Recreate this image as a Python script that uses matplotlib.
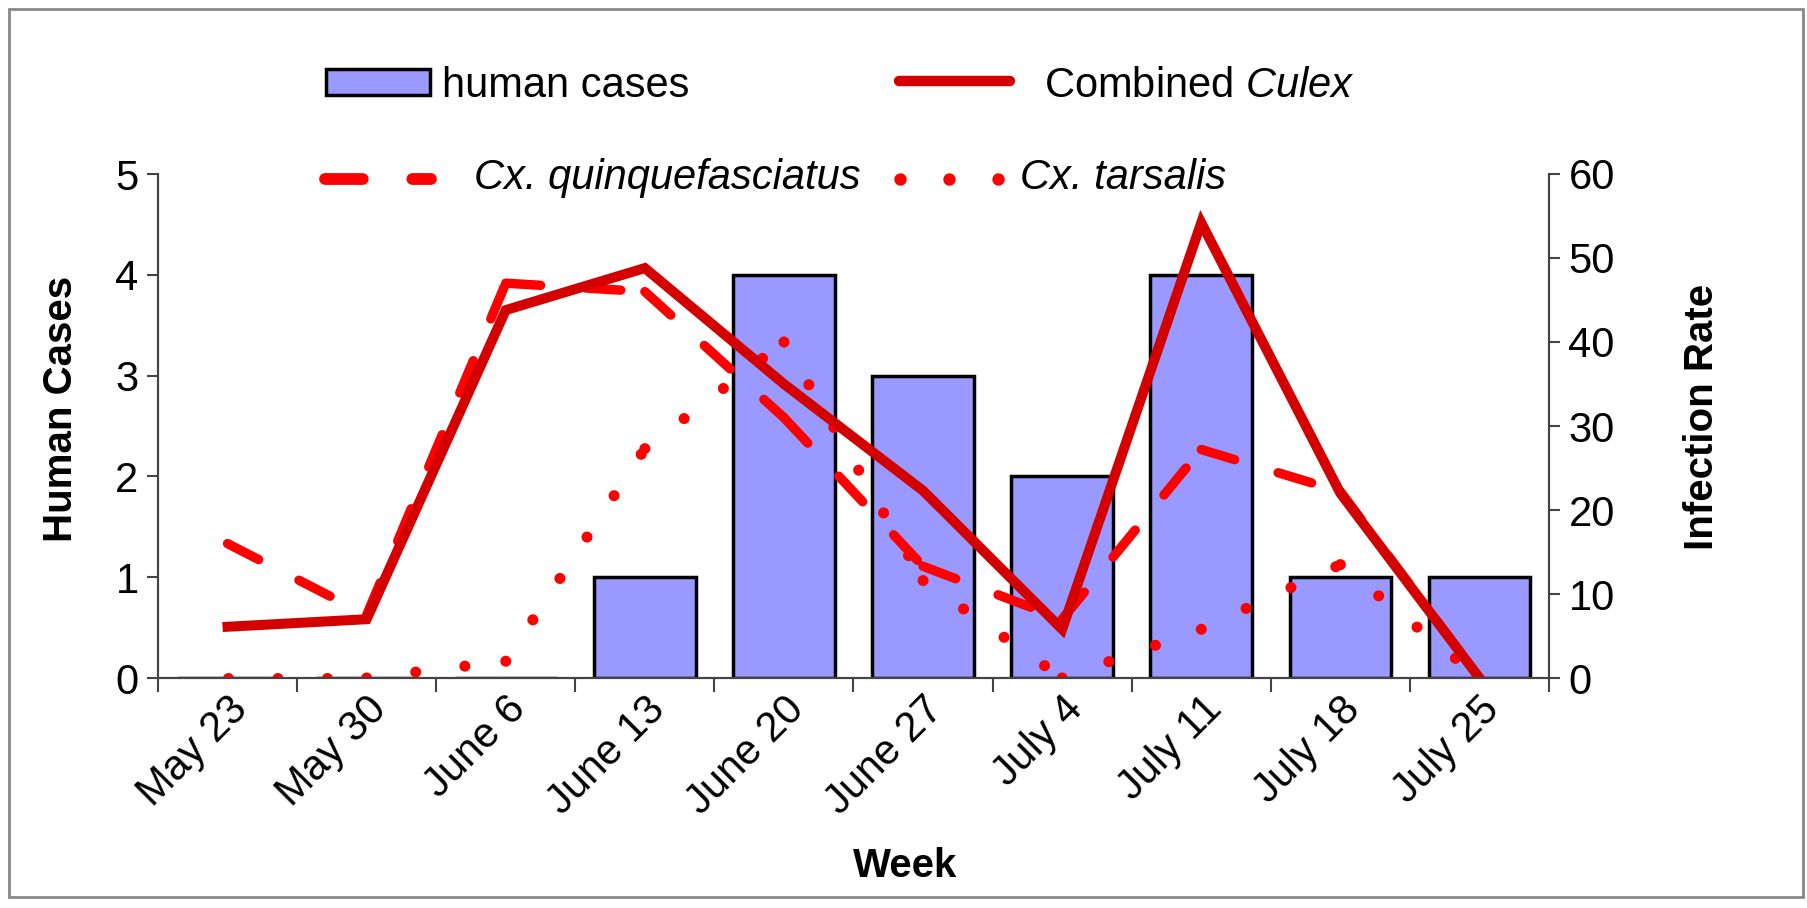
import numpy as np
import matplotlib
matplotlib.use("Agg")
import matplotlib.pyplot as plt
from matplotlib.lines import Line2D
from matplotlib.patches import Rectangle

plt.rcParams["font.family"] = ["Liberation Sans", "DejaVu Sans"]
plt.rcParams["mathtext.fontset"] = "custom"
plt.rcParams["mathtext.rm"] = "Liberation Sans"
plt.rcParams["mathtext.it"] = "Liberation Sans:italic"

# data
weeks = ["May 23", "May 30", "June 6", "June 13", "June 20",
         "June 27", "July 4", "July 11", "July 18", "July 25"]
human_cases = [0, 0, 0, 1, 4, 3, 2, 4, 1, 1]
combined_culex = [6.1, 7.0, 43.8, 48.8, 35.0, 22.3, 5.8, 54.2, 22.0, 0]
cx_quinque = [16.0, 7.5, 47.0, 46.0, 31.0, 13.3, 7.0, 27.2, 22.2, 0]
cx_tarsalis = [0, 0, 2.0, 27.3, 40.0, 11.6, 0, 5.8, 13.5, 0]

BAR_COLOR = "#9999FF"
DARK_RED = "#D40000"
RED = "#FF0000"
W, H = 1808, 908


def fx(px):
    return px / W


def fy(py):
    return 1 - py / H


def plot_segments(ax, ys, **kw):
    # Excel restarts the dash pattern on every segment
    for i in range(len(ys) - 1):
        ax.plot([i, i + 1], ys[i:i + 2], **kw)


fig = plt.figure(figsize=(W / 100, H / 100), dpi=100)
ax = fig.add_axes([fx(158), fy(678), fx(1549) - fx(158), fy(174) - fy(678)])
x = np.arange(len(weeks))

ax.bar(x, human_cases, width=0.73, color=BAR_COLOR, edgecolor="black", linewidth=2.5, zorder=2)
ax.set_xlim(-0.5, len(weeks) - 0.5)
ax.set_ylim(0, 5)
ax.set_yticks(range(6))
ax.tick_params(axis="y", labelsize=30, length=8, width=1.5, color="#444444", pad=6)
ax.set_xticks(np.arange(-0.5, len(weeks), 1))
ax.set_xticklabels([])
ax.tick_params(axis="x", which="major", length=10, width=1.5, color="#444444")
ax.set_xticks(x, minor=True)
ax.set_xticklabels(weeks, minor=True, rotation=45, ha="right", rotation_mode="anchor", fontsize=30)
ax.tick_params(axis="x", which="minor", length=0, pad=8)
ax.set_ylabel("Human Cases", fontsize=29, fontweight="bold")
ax.yaxis.set_label_coords(-0.056, 0.533)
ax.set_xlabel("Week", fontsize=29, fontweight="bold")
ax.xaxis.set_label_coords(0.537, -0.336)
ax.spines["top"].set_visible(False)
for s in ["left", "bottom", "right"]:
    ax.spines[s].set_linewidth(1.5)
    ax.spines[s].set_color("#444444")

ax2 = ax.twinx()
ax2.set_ylim(0, 60)
ax2.set_yticks(range(0, 61, 10))
ax2.tick_params(axis="y", labelsize=30, length=8, width=1.5, color="#444444", pad=6)
ax2.set_ylabel("Infection Rate", fontsize=29, fontweight="bold")
ax2.yaxis.set_label_coords(1.096, 0.517)
ax2.spines["top"].set_visible(False)
for s in ["left", "bottom", "right"]:
    ax2.spines[s].set_linewidth(1.5)
    ax2.spines[s].set_color("#444444")

dash_kw = dict(color=RED, linewidth=6.8, linestyle=(0, (3.7, 4.8)), dash_capstyle="round")
dot_kw = dict(color=RED, linewidth=8, linestyle=(0, (0.001, 4.45)), dash_capstyle="round")
plot_segments(ax2, cx_quinque, **dash_kw)
plot_segments(ax2, cx_tarsalis, **dot_kw)
ax2.plot(x, combined_culex, color=DARK_RED, linewidth=7.2, solid_joinstyle="miter")

# legend drawn in figure pixels, as in the reference
fig.add_artist(Rectangle((fx(326), fy(95)), fx(430) - fx(326), fy(69) - fy(95),
                         transform=fig.transFigure, facecolor=BAR_COLOR, edgecolor="black", linewidth=2.5))
fig.text(fx(442), fy(97), "human cases", fontsize=30, va="baseline")
fig.add_artist(Line2D([fx(899), fx(1010)], [fy(81), fy(81)], transform=fig.transFigure,
                      color=DARK_RED, linewidth=7.5, solid_capstyle="round"))
fig.text(fx(1044), fy(97), r"Combined $\mathit{Culex}$", fontsize=30, va="baseline")
fig.add_artist(Line2D([fx(325), fx(431)], [fy(179), fy(179)], transform=fig.transFigure,
                      color=RED, linewidth=8.5, linestyle=(0, (3.2, 4.2)), dash_capstyle="round"))
fig.text(fx(474), fy(189), "Cx. quinquefasciatus", fontsize=30, style="italic", va="baseline")
fig.add_artist(Line2D([fx(900), fx(1000)], [fy(179), fy(179)], transform=fig.transFigure,
                      color=RED, linewidth=9, linestyle=(0, (0.001, 3.92)), dash_capstyle="round"))
fig.text(fx(1020), fy(189), "Cx. tarsalis", fontsize=30, style="italic", va="baseline")

fig.add_artist(Rectangle((fx(9), fy(897)), fx(1803) - fx(9), fy(9) - fy(897),
                         transform=fig.transFigure, fill=False, edgecolor="#888888", linewidth=2))

fig.savefig("out.png", dpi=100)
